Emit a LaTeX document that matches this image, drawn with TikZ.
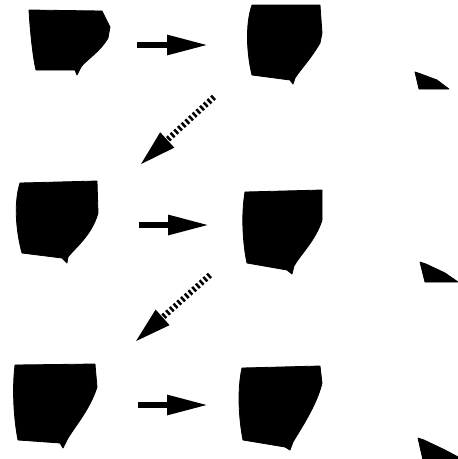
\documentclass[tikz,border=0pt]{standalone}
\usetikzlibrary{arrows.meta}
\begin{document}
\begin{tikzpicture}[x=1pt,y=-1pt,line join=round,
  blob/.style={fill=black,draw=black,line width=0.8pt},
  fatarrow/.style={line width=6pt,-{Triangle[length=41pt,width=19pt]}},
  ladder/.style={line width=6pt,dash pattern=on 2.5pt off 2.5pt,-{Triangle[length=37pt,width=19pt]}}]
  \useasboundingbox (0,0) rectangle (458,459);
  % row 1
  \fill[blob] (29,10) -- (102,11) -- (110,27) -- (108,38) .. controls (100,52) and (86,60) .. (81,67) -- (77,75) -- (75,70) -- (36,70) .. controls (33,58) and (30,30) .. (29,10) -- cycle;
  \fill[blob] (252,5) -- (320,5) -- (322,33) -- (320,43) .. controls (310,60) and (300,70) .. (295,78) -- (293,84) -- (290,80) -- (252,75) .. controls (247,55) and (245,25) .. (252,5) -- cycle;
  \fill[blob] (415,72) -- (421,74) -- (437,80) -- (449,89) -- (419,89) -- cycle;
  % row 2
  \fill[blob] (20,183) -- (97,181) -- (98,213) .. controls (92,235) and (75,248) .. (68,257) -- (67,263) -- (62,258) -- (22,253) .. controls (17,235) and (13,205) .. (20,183) -- cycle;
  \fill[blob] (245,192) -- (322,190) -- (322,220) .. controls (316,240) and (300,255) .. (294,266) -- (292,274) -- (287,270) -- (247,263) .. controls (243,245) and (241,215) .. (245,192) -- cycle;
  \fill[blob] (420,262) -- (426,264) -- (445,273) -- (458,282) -- (425,282) -- cycle;
  % row 3
  \fill[blob] (15,365) -- (95,364) -- (97,387) .. controls (90,410) and (72,430) .. (67,440) -- (63,448) -- (60,443) -- (18,440) .. controls (14,420) and (12,390) .. (15,365) -- cycle;
  \fill[blob] (242,368) -- (320,366) -- (322,383) .. controls (317,405) and (300,430) .. (293,442) -- (290,450) -- (285,447) -- (243,440) .. controls (239,420) and (237,390) .. (242,368) -- cycle;
  \fill[blob] (418,438) -- (424,440) -- (445,450) -- (460,458) -- (460,460) -- (423,460) -- cycle;
  % arrow ends
  \coordinate (a1) at (137,45);  \coordinate (b1) at (208,45);
  \coordinate (a2) at (139,225); \coordinate (b2) at (209,225);
  \coordinate (a3) at (138,405); \coordinate (b3) at (208,405);
  \coordinate (d1) at (214,97);  \coordinate (e1) at (140,165);
  \coordinate (d2) at (210,275); \coordinate (e2) at (135,342);
  \draw[fatarrow] (a1) -- (b1);
  \draw[fatarrow] (a2) -- (b2);
  \draw[fatarrow] (a3) -- (b3);
  \draw[ladder] (d1) -- (e1);
  \draw[ladder] (d2) -- (e2);
\end{tikzpicture}
\end{document}
